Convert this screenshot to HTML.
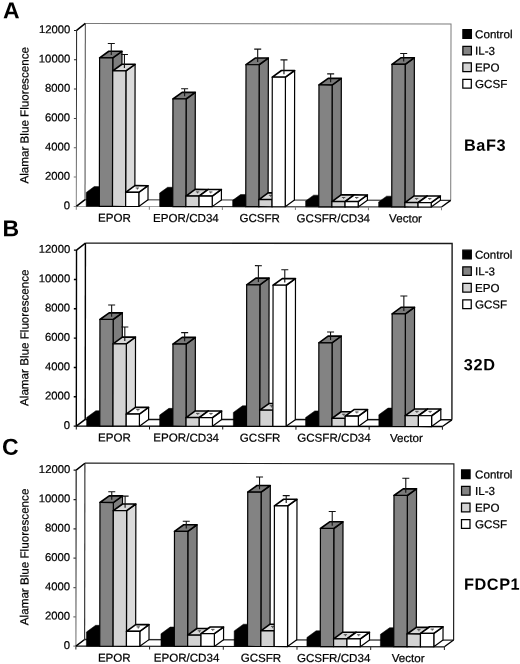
<!DOCTYPE html>
<html><head><meta charset="utf-8"><title>Figure</title>
<style>
html,body{margin:0;padding:0;background:#fff;}
body{width:520px;height:664px;overflow:hidden;}
svg{display:block;will-change:transform;opacity:0.999}
text{font-family:"Liberation Sans",Arial,Helvetica,sans-serif;fill:#000}
.t{font-size:11.3px;stroke:#000;stroke-width:0.22px}
.pl{font-size:23px;font-weight:bold}
.nm{font-size:16.3px;font-weight:bold;letter-spacing:0.6px}
</style></head><body>
<svg width="520" height="664" viewBox="0 0 520 664">
<rect width="520" height="664" fill="#fff"/>
<g transform="rotate(0.100 76.3 206.4)">
<path d="M85.00 23.40H450.70V199.70" fill="none" stroke="#7a7a7a" stroke-width="1.00"/>
<path d="M85.00 23.40V199.70" fill="none" stroke="#4a4a4a" stroke-width="1.00"/>
<path d="M85.00 199.70H450.70" fill="none" stroke="#333" stroke-width="1.10"/>
<path d="M441.50 206.40L450.70 199.70" fill="none" stroke="#000" stroke-width="1.3"/>
<path d="M76.30 206.40H160.00" stroke="#a0a0a0" stroke-width="1" fill="none"/>
<path d="M160.00 206.40H441.50" stroke="#111" stroke-width="1.00" fill="none"/>
<polygon points="86.20,206.40 86.20,192.39 94.16,186.59 108.55,186.59 108.55,199.70 99.35,206.40" fill="#000" stroke="#000" stroke-width="0.5" stroke-linejoin="round"/>
<polygon points="112.50,206.40 121.70,199.70 121.70,51.20 112.50,57.90" fill="#7e7e7e" stroke="#000" stroke-width="1.2" stroke-linejoin="round"/>
<polygon points="99.35,57.90 108.55,51.20 121.70,51.20 112.50,57.90" fill="#7a7a7a" stroke="#000" stroke-width="1.6" stroke-linejoin="round"/>
<polygon points="99.35,206.40 99.35,57.90 112.50,57.90 112.50,206.40" fill="#838383" stroke="#000" stroke-width="1.2" stroke-linejoin="round"/>
<path d="M111.02 55.05V43.40M107.52 43.40H114.52" stroke="#111" stroke-width="1.1" fill="none"/>
<polygon points="125.65,206.40 134.85,199.70 134.85,64.18 125.65,70.88" fill="#dbdbdb" stroke="#000" stroke-width="1.2" stroke-linejoin="round"/>
<polygon points="112.50,70.88 121.70,64.18 134.85,64.18 125.65,70.88" fill="#d8d8d8" stroke="#000" stroke-width="1.6" stroke-linejoin="round"/>
<polygon points="112.50,206.40 112.50,70.88 125.65,70.88 125.65,206.40" fill="#d3d3d3" stroke="#000" stroke-width="1.2" stroke-linejoin="round"/>
<path d="M124.17 68.03V54.48M120.67 54.48H127.67" stroke="#111" stroke-width="1.1" fill="none"/>
<polygon points="138.80,206.40 148.00,199.70 148.00,185.55 138.80,192.25" fill="#fff" stroke="#000" stroke-width="1.2" stroke-linejoin="round"/>
<polygon points="125.65,192.25 134.85,185.55 148.00,185.55 138.80,192.25" fill="#fff" stroke="#000" stroke-width="1.6" stroke-linejoin="round"/>
<polygon points="125.65,206.40 125.65,192.25 138.80,192.25 138.80,206.40" fill="#fff" stroke="#000" stroke-width="1.2" stroke-linejoin="round"/>
<path d="M137.32 189.50V187.87M135.62 187.87H139.02" stroke="#444" stroke-width="0.9" fill="none"/>
<polygon points="159.60,206.40 159.60,192.91 167.56,187.11 181.95,187.11 181.95,199.70 172.75,206.40" fill="#000" stroke="#000" stroke-width="0.5" stroke-linejoin="round"/>
<polygon points="185.90,206.40 195.10,199.70 195.10,92.12 185.90,98.82" fill="#7e7e7e" stroke="#000" stroke-width="1.2" stroke-linejoin="round"/>
<polygon points="172.75,98.82 181.95,92.12 195.10,92.12 185.90,98.82" fill="#7a7a7a" stroke="#000" stroke-width="1.6" stroke-linejoin="round"/>
<polygon points="172.75,206.40 172.75,98.82 185.90,98.82 185.90,206.40" fill="#838383" stroke="#000" stroke-width="1.2" stroke-linejoin="round"/>
<path d="M184.42 95.97V88.50M180.92 88.50H187.92" stroke="#111" stroke-width="1.1" fill="none"/>
<polygon points="199.05,206.40 208.25,199.70 208.25,189.21 199.05,195.91" fill="#dbdbdb" stroke="#000" stroke-width="1.2" stroke-linejoin="round"/>
<polygon points="185.90,195.91 195.10,189.21 208.25,189.21 199.05,195.91" fill="#d8d8d8" stroke="#000" stroke-width="1.6" stroke-linejoin="round"/>
<polygon points="185.90,206.40 185.90,195.91 199.05,195.91 199.05,206.40" fill="#d3d3d3" stroke="#000" stroke-width="1.2" stroke-linejoin="round"/>
<path d="M197.57 193.16V191.68M195.88 191.68H199.27" stroke="#444" stroke-width="0.9" fill="none"/>
<polygon points="212.20,206.40 221.40,199.70 221.40,189.21 212.20,195.91" fill="#fff" stroke="#000" stroke-width="1.2" stroke-linejoin="round"/>
<polygon points="199.05,195.91 208.25,189.21 221.40,189.21 212.20,195.91" fill="#fff" stroke="#000" stroke-width="1.6" stroke-linejoin="round"/>
<polygon points="199.05,206.40 199.05,195.91 212.20,195.91 212.20,206.40" fill="#fff" stroke="#000" stroke-width="1.2" stroke-linejoin="round"/>
<path d="M210.72 193.16V191.68M209.03 191.68H212.42" stroke="#444" stroke-width="0.9" fill="none"/>
<polygon points="232.60,206.40 232.60,200.09 240.56,194.29 254.95,194.29 254.95,199.70 245.75,206.40" fill="#000" stroke="#000" stroke-width="0.5" stroke-linejoin="round"/>
<polygon points="258.90,206.40 268.10,199.70 268.10,57.73 258.90,64.43" fill="#7e7e7e" stroke="#000" stroke-width="1.2" stroke-linejoin="round"/>
<polygon points="245.75,64.43 254.95,57.73 268.10,57.73 258.90,64.43" fill="#7a7a7a" stroke="#000" stroke-width="1.6" stroke-linejoin="round"/>
<polygon points="245.75,206.40 245.75,64.43 258.90,64.43 258.90,206.40" fill="#838383" stroke="#000" stroke-width="1.2" stroke-linejoin="round"/>
<path d="M257.43 61.58V48.83M253.93 48.83H260.93" stroke="#111" stroke-width="1.1" fill="none"/>
<polygon points="272.05,206.40 281.25,199.70 281.25,192.51 272.05,199.21" fill="#dbdbdb" stroke="#000" stroke-width="1.2" stroke-linejoin="round"/>
<polygon points="258.90,199.21 268.10,192.51 281.25,192.51 272.05,199.21" fill="#d8d8d8" stroke="#000" stroke-width="1.6" stroke-linejoin="round"/>
<polygon points="258.90,206.40 258.90,199.21 272.05,199.21 272.05,206.40" fill="#d3d3d3" stroke="#000" stroke-width="1.2" stroke-linejoin="round"/>
<path d="M270.57 196.46V194.98M268.88 194.98H272.27" stroke="#444" stroke-width="0.9" fill="none"/>
<polygon points="285.20,206.40 294.40,199.70 294.40,70.12 285.20,76.82" fill="#fff" stroke="#000" stroke-width="1.2" stroke-linejoin="round"/>
<polygon points="272.05,76.82 281.25,70.12 294.40,70.12 285.20,76.82" fill="#fff" stroke="#000" stroke-width="1.6" stroke-linejoin="round"/>
<polygon points="272.05,206.40 272.05,76.82 285.20,76.82 285.20,206.40" fill="#fff" stroke="#000" stroke-width="1.2" stroke-linejoin="round"/>
<path d="M283.73 73.97V59.54M280.23 59.54H287.23" stroke="#111" stroke-width="1.1" fill="none"/>
<polygon points="305.60,206.40 305.60,200.53 313.56,194.73 327.95,194.73 327.95,199.70 318.75,206.40" fill="#000" stroke="#000" stroke-width="0.5" stroke-linejoin="round"/>
<polygon points="331.90,206.40 341.10,199.70 341.10,77.89 331.90,84.59" fill="#7e7e7e" stroke="#000" stroke-width="1.2" stroke-linejoin="round"/>
<polygon points="318.75,84.59 327.95,77.89 341.10,77.89 331.90,84.59" fill="#7a7a7a" stroke="#000" stroke-width="1.6" stroke-linejoin="round"/>
<polygon points="318.75,206.40 318.75,84.59 331.90,84.59 331.90,206.40" fill="#838383" stroke="#000" stroke-width="1.2" stroke-linejoin="round"/>
<path d="M330.43 81.74V73.40M326.93 73.40H333.93" stroke="#111" stroke-width="1.1" fill="none"/>
<polygon points="345.05,206.40 354.25,199.70 354.25,194.42 345.05,201.12" fill="#dbdbdb" stroke="#000" stroke-width="1.2" stroke-linejoin="round"/>
<polygon points="331.90,201.12 341.10,194.42 354.25,194.42 345.05,201.12" fill="#d8d8d8" stroke="#000" stroke-width="1.6" stroke-linejoin="round"/>
<polygon points="331.90,206.40 331.90,201.12 345.05,201.12 345.05,206.40" fill="#d3d3d3" stroke="#000" stroke-width="1.2" stroke-linejoin="round"/>
<path d="M343.58 198.37V197.04M341.88 197.04H345.28" stroke="#444" stroke-width="0.9" fill="none"/>
<polygon points="358.20,206.40 367.40,199.70 367.40,194.42 358.20,201.12" fill="#fff" stroke="#000" stroke-width="1.2" stroke-linejoin="round"/>
<polygon points="345.05,201.12 354.25,194.42 367.40,194.42 358.20,201.12" fill="#fff" stroke="#000" stroke-width="1.6" stroke-linejoin="round"/>
<polygon points="345.05,206.40 345.05,201.12 358.20,201.12 358.20,206.40" fill="#fff" stroke="#000" stroke-width="1.2" stroke-linejoin="round"/>
<path d="M356.73 198.37V197.04M355.03 197.04H358.43" stroke="#444" stroke-width="0.9" fill="none"/>
<polygon points="378.60,206.40 378.60,201.41 386.56,195.61 400.95,195.61 400.95,199.70 391.75,206.40" fill="#000" stroke="#000" stroke-width="0.5" stroke-linejoin="round"/>
<polygon points="404.90,206.40 414.10,199.70 414.10,57.14 404.90,63.84" fill="#7e7e7e" stroke="#000" stroke-width="1.2" stroke-linejoin="round"/>
<polygon points="391.75,63.84 400.95,57.14 414.10,57.14 404.90,63.84" fill="#7a7a7a" stroke="#000" stroke-width="1.6" stroke-linejoin="round"/>
<polygon points="391.75,206.40 391.75,63.84 404.90,63.84 404.90,206.40" fill="#838383" stroke="#000" stroke-width="1.2" stroke-linejoin="round"/>
<path d="M403.43 60.99V52.86M399.93 52.86H406.93" stroke="#111" stroke-width="1.1" fill="none"/>
<polygon points="418.05,206.40 427.25,199.70 427.25,195.37 418.05,202.07" fill="#dbdbdb" stroke="#000" stroke-width="1.2" stroke-linejoin="round"/>
<polygon points="404.90,202.07 414.10,195.37 427.25,195.37 418.05,202.07" fill="#d8d8d8" stroke="#000" stroke-width="1.6" stroke-linejoin="round"/>
<polygon points="404.90,206.40 404.90,202.07 418.05,202.07 418.05,206.40" fill="#d3d3d3" stroke="#000" stroke-width="1.2" stroke-linejoin="round"/>
<path d="M416.58 199.32V197.99M414.88 197.99H418.28" stroke="#444" stroke-width="0.9" fill="none"/>
<polygon points="431.20,206.40 440.40,199.70 440.40,195.37 431.20,202.07" fill="#fff" stroke="#000" stroke-width="1.2" stroke-linejoin="round"/>
<polygon points="418.05,202.07 427.25,195.37 440.40,195.37 431.20,202.07" fill="#fff" stroke="#000" stroke-width="1.6" stroke-linejoin="round"/>
<polygon points="418.05,206.40 418.05,202.07 431.20,202.07 431.20,206.40" fill="#fff" stroke="#000" stroke-width="1.2" stroke-linejoin="round"/>
<path d="M429.73 199.32V197.99M428.03 197.99H431.43" stroke="#444" stroke-width="0.9" fill="none"/>
<linearGradient id="axA" gradientUnits="userSpaceOnUse" x1="0" y1="30.4" x2="0" y2="206.4"><stop offset="0" stop-color="#1a1a1a"/><stop offset="0.35" stop-color="#333"/><stop offset="1" stop-color="#8c8c8c"/></linearGradient>
<path d="M76.30 30.40V206.40M73.70 206.40H76.30M73.70 177.07H76.30M73.70 147.73H76.30M73.70 118.40H76.30M73.70 89.07H76.30M73.70 59.73H76.30M73.70 30.40H76.30" stroke="url(#axA)" stroke-width="1.00" fill="none"/>
<path d="M76.30 30.40L85.00 23.40M76.30 206.40L85.00 199.70" stroke="#000" stroke-width="1.5" fill="none"/>
<path d="M76.30 206.40V209.70M149.34 206.40V209.70M222.38 206.40V209.70M295.42 206.40V209.70M368.46 206.40V209.70M441.50 206.40V209.70" stroke="#808080" stroke-width="1" fill="none"/>
<text x="70.0" y="209.20" text-anchor="end" class="t">0</text>
<text x="70.0" y="179.87" text-anchor="end" class="t">2000</text>
<text x="70.0" y="150.53" text-anchor="end" class="t">4000</text>
<text x="70.0" y="121.20" text-anchor="end" class="t">6000</text>
<text x="70.0" y="91.87" text-anchor="end" class="t">8000</text>
<text x="70.0" y="62.53" text-anchor="end" class="t">10000</text>
<text x="70.0" y="33.20" text-anchor="end" class="t">12000</text>
<text x="114.42" y="221.80" text-anchor="middle" class="t" style="font-size:11.6px">EPOR</text>
<text x="185.96" y="221.80" text-anchor="middle" class="t" style="font-size:11.6px">EPOR/CD34</text>
<text x="259.70" y="221.80" text-anchor="middle" class="t" style="font-size:11.6px">GCSFR</text>
<text x="333.34" y="221.80" text-anchor="middle" class="t" style="font-size:11.6px">GCSFR/CD34</text>
<text x="405.58" y="221.80" text-anchor="middle" class="t" style="font-size:11.6px">Vector</text>
<text transform="translate(28.3,115.35) rotate(-90)" text-anchor="middle" class="t" style="font-size:11.65px">Alamar Blue Fluorescence</text>
<rect x="462.60" y="29.00" width="8.5" height="8.7" fill="#000" stroke="#000" stroke-width="1.25"/>
<text x="474.80" y="37.60" class="t" style="font-size:11.6px">Control</text>
<rect x="462.60" y="45.58" width="8.5" height="8.7" fill="#838383" stroke="#000" stroke-width="1.25"/>
<text x="474.80" y="54.18" class="t" style="font-size:11.6px">IL-3</text>
<rect x="462.60" y="62.16" width="8.5" height="8.7" fill="#d3d3d3" stroke="#000" stroke-width="1.25"/>
<text x="474.80" y="70.76" class="t" style="font-size:11.6px">EPO</text>
<rect x="462.60" y="78.74" width="8.5" height="8.7" fill="#fff" stroke="#000" stroke-width="1.25"/>
<text x="474.80" y="87.34" class="t" style="font-size:11.6px">GCSF</text>
<text x="2.60" y="18.40" class="pl">A</text>
<text x="463.8" y="150.10" class="nm">BaF3</text>
</g>
<g transform="rotate(0.070 76.3 426.1)">
<path d="M85.20 243.10H451.90V419.40" fill="none" stroke="#1a1a1a" stroke-width="1.40"/>
<path d="M85.20 243.10V419.40" fill="none" stroke="#000" stroke-width="1.40"/>
<path d="M85.20 419.40H451.90" fill="none" stroke="#111" stroke-width="1.50"/>
<path d="M442.40 426.10L451.90 419.40" fill="none" stroke="#000" stroke-width="1.3"/>
<path d="M76.30 426.10H442.40" stroke="#000" stroke-width="1.40" fill="none"/>
<polygon points="86.60,426.10 86.60,417.45 95.80,410.75 109.00,410.75 109.00,419.40 99.80,426.10" fill="#000" stroke="#000" stroke-width="0.5" stroke-linejoin="round"/>
<polygon points="113.00,426.10 122.20,419.40 122.20,312.77 113.00,319.47" fill="#7e7e7e" stroke="#000" stroke-width="1.2" stroke-linejoin="round"/>
<polygon points="99.80,319.47 109.00,312.77 122.20,312.77 113.00,319.47" fill="#7a7a7a" stroke="#000" stroke-width="1.6" stroke-linejoin="round"/>
<polygon points="99.80,426.10 99.80,319.47 113.00,319.47 113.00,426.10" fill="#838383" stroke="#000" stroke-width="1.2" stroke-linejoin="round"/>
<path d="M111.50 316.62V304.90M108.00 304.90H115.00" stroke="#111" stroke-width="1.1" fill="none"/>
<polygon points="126.20,426.10 135.40,419.40 135.40,337.05 126.20,343.75" fill="#dbdbdb" stroke="#000" stroke-width="1.2" stroke-linejoin="round"/>
<polygon points="113.00,343.75 122.20,337.05 135.40,337.05 126.20,343.75" fill="#d8d8d8" stroke="#000" stroke-width="1.6" stroke-linejoin="round"/>
<polygon points="113.00,426.10 113.00,343.75 126.20,343.75 126.20,426.10" fill="#d3d3d3" stroke="#000" stroke-width="1.2" stroke-linejoin="round"/>
<path d="M124.70 340.90V326.98M121.20 326.98H128.20" stroke="#111" stroke-width="1.1" fill="none"/>
<polygon points="139.40,426.10 148.60,419.40 148.60,407.30 139.40,414.00" fill="#fff" stroke="#000" stroke-width="1.2" stroke-linejoin="round"/>
<polygon points="126.20,414.00 135.40,407.30 148.60,407.30 139.40,414.00" fill="#fff" stroke="#000" stroke-width="1.6" stroke-linejoin="round"/>
<polygon points="126.20,426.10 126.20,414.00 139.40,414.00 139.40,426.10" fill="#fff" stroke="#000" stroke-width="1.2" stroke-linejoin="round"/>
<path d="M137.90 411.25V409.48M136.20 409.48H139.60" stroke="#444" stroke-width="0.9" fill="none"/>
<polygon points="159.65,426.10 159.65,414.95 168.85,408.25 182.05,408.25 182.05,419.40 172.85,426.10" fill="#000" stroke="#000" stroke-width="0.5" stroke-linejoin="round"/>
<polygon points="186.05,426.10 195.25,419.40 195.25,337.27 186.05,343.97" fill="#7e7e7e" stroke="#000" stroke-width="1.2" stroke-linejoin="round"/>
<polygon points="172.85,343.97 182.05,337.27 195.25,337.27 186.05,343.97" fill="#7a7a7a" stroke="#000" stroke-width="1.6" stroke-linejoin="round"/>
<polygon points="172.85,426.10 172.85,343.97 186.05,343.97 186.05,426.10" fill="#838383" stroke="#000" stroke-width="1.2" stroke-linejoin="round"/>
<path d="M184.55 341.12V332.48M181.05 332.48H188.05" stroke="#111" stroke-width="1.1" fill="none"/>
<polygon points="199.25,426.10 208.45,419.40 208.45,410.81 199.25,417.51" fill="#dbdbdb" stroke="#000" stroke-width="1.2" stroke-linejoin="round"/>
<polygon points="186.05,417.51 195.25,410.81 208.45,410.81 199.25,417.51" fill="#d8d8d8" stroke="#000" stroke-width="1.6" stroke-linejoin="round"/>
<polygon points="186.05,426.10 186.05,417.51 199.25,417.51 199.25,426.10" fill="#d3d3d3" stroke="#000" stroke-width="1.2" stroke-linejoin="round"/>
<path d="M197.75 414.76V413.28M196.05 413.28H199.45" stroke="#444" stroke-width="0.9" fill="none"/>
<polygon points="212.45,426.10 221.65,419.40 221.65,410.81 212.45,417.51" fill="#fff" stroke="#000" stroke-width="1.2" stroke-linejoin="round"/>
<polygon points="199.25,417.51 208.45,410.81 221.65,410.81 212.45,417.51" fill="#fff" stroke="#000" stroke-width="1.6" stroke-linejoin="round"/>
<polygon points="199.25,426.10 199.25,417.51 212.45,417.51 212.45,426.10" fill="#fff" stroke="#000" stroke-width="1.2" stroke-linejoin="round"/>
<path d="M210.95 414.76V413.28M209.25 413.28H212.65" stroke="#444" stroke-width="0.9" fill="none"/>
<polygon points="233.30,426.10 233.30,412.25 242.50,405.55 255.70,405.55 255.70,419.40 246.50,426.10" fill="#000" stroke="#000" stroke-width="0.5" stroke-linejoin="round"/>
<polygon points="259.70,426.10 268.90,419.40 268.90,277.87 259.70,284.57" fill="#7e7e7e" stroke="#000" stroke-width="1.2" stroke-linejoin="round"/>
<polygon points="246.50,284.57 255.70,277.87 268.90,277.87 259.70,284.57" fill="#7a7a7a" stroke="#000" stroke-width="1.6" stroke-linejoin="round"/>
<polygon points="246.50,426.10 246.50,284.57 259.70,284.57 259.70,426.10" fill="#838383" stroke="#000" stroke-width="1.2" stroke-linejoin="round"/>
<path d="M258.20 281.72V265.45M254.70 265.45H261.70" stroke="#111" stroke-width="1.1" fill="none"/>
<polygon points="272.90,426.10 282.10,419.40 282.10,403.30 272.90,410.00" fill="#dbdbdb" stroke="#000" stroke-width="1.2" stroke-linejoin="round"/>
<polygon points="259.70,410.00 268.90,403.30 282.10,403.30 272.90,410.00" fill="#d8d8d8" stroke="#000" stroke-width="1.6" stroke-linejoin="round"/>
<polygon points="259.70,426.10 259.70,410.00 272.90,410.00 272.90,426.10" fill="#d3d3d3" stroke="#000" stroke-width="1.2" stroke-linejoin="round"/>
<path d="M271.40 407.25V405.47M269.70 405.47H273.10" stroke="#444" stroke-width="0.9" fill="none"/>
<polygon points="286.10,426.10 295.30,419.40 295.30,278.31 286.10,285.01" fill="#fff" stroke="#000" stroke-width="1.2" stroke-linejoin="round"/>
<polygon points="272.90,285.01 282.10,278.31 295.30,278.31 286.10,285.01" fill="#fff" stroke="#000" stroke-width="1.6" stroke-linejoin="round"/>
<polygon points="272.90,426.10 272.90,285.01 286.10,285.01 286.10,426.10" fill="#fff" stroke="#000" stroke-width="1.2" stroke-linejoin="round"/>
<path d="M284.60 282.16V269.56M281.10 269.56H288.10" stroke="#111" stroke-width="1.1" fill="none"/>
<polygon points="305.55,426.10 305.55,417.30 314.75,410.60 327.95,410.60 327.95,419.40 318.75,426.10" fill="#000" stroke="#000" stroke-width="0.5" stroke-linejoin="round"/>
<polygon points="331.95,426.10 341.15,419.40 341.15,335.80 331.95,342.50" fill="#7e7e7e" stroke="#000" stroke-width="1.2" stroke-linejoin="round"/>
<polygon points="318.75,342.50 327.95,335.80 341.15,335.80 331.95,342.50" fill="#7a7a7a" stroke="#000" stroke-width="1.6" stroke-linejoin="round"/>
<polygon points="318.75,426.10 318.75,342.50 331.95,342.50 331.95,426.10" fill="#838383" stroke="#000" stroke-width="1.2" stroke-linejoin="round"/>
<path d="M330.45 339.65V331.74M326.95 331.74H333.95" stroke="#111" stroke-width="1.1" fill="none"/>
<polygon points="345.15,426.10 354.35,419.40 354.35,411.41 345.15,418.11" fill="#dbdbdb" stroke="#000" stroke-width="1.2" stroke-linejoin="round"/>
<polygon points="331.95,418.11 341.15,411.41 354.35,411.41 345.15,418.11" fill="#d8d8d8" stroke="#000" stroke-width="1.6" stroke-linejoin="round"/>
<polygon points="331.95,426.10 331.95,418.11 345.15,418.11 345.15,426.10" fill="#d3d3d3" stroke="#000" stroke-width="1.2" stroke-linejoin="round"/>
<path d="M343.65 415.36V413.88M341.95 413.88H345.35" stroke="#444" stroke-width="0.9" fill="none"/>
<polygon points="358.35,426.10 367.55,419.40 367.55,409.13 358.35,415.83" fill="#fff" stroke="#000" stroke-width="1.2" stroke-linejoin="round"/>
<polygon points="345.15,415.83 354.35,409.13 367.55,409.13 358.35,415.83" fill="#fff" stroke="#000" stroke-width="1.6" stroke-linejoin="round"/>
<polygon points="345.15,426.10 345.15,415.83 358.35,415.83 358.35,426.10" fill="#fff" stroke="#000" stroke-width="1.2" stroke-linejoin="round"/>
<path d="M356.85 413.08V411.60M355.15 411.60H358.55" stroke="#444" stroke-width="0.9" fill="none"/>
<polygon points="378.80,426.10 378.80,414.37 388.00,407.67 401.20,407.67 401.20,419.40 392.00,426.10" fill="#000" stroke="#000" stroke-width="0.5" stroke-linejoin="round"/>
<polygon points="405.20,426.10 414.40,419.40 414.40,306.83 405.20,313.53" fill="#7e7e7e" stroke="#000" stroke-width="1.2" stroke-linejoin="round"/>
<polygon points="392.00,313.53 401.20,306.83 414.40,306.83 405.20,313.53" fill="#7a7a7a" stroke="#000" stroke-width="1.6" stroke-linejoin="round"/>
<polygon points="392.00,426.10 392.00,313.53 405.20,313.53 405.20,426.10" fill="#838383" stroke="#000" stroke-width="1.2" stroke-linejoin="round"/>
<path d="M403.70 310.68V295.59M400.20 295.59H407.20" stroke="#111" stroke-width="1.1" fill="none"/>
<polygon points="418.40,426.10 427.60,419.40 427.60,408.61 418.40,415.31" fill="#dbdbdb" stroke="#000" stroke-width="1.2" stroke-linejoin="round"/>
<polygon points="405.20,415.31 414.40,408.61 427.60,408.61 418.40,415.31" fill="#d8d8d8" stroke="#000" stroke-width="1.6" stroke-linejoin="round"/>
<polygon points="405.20,426.10 405.20,415.31 418.40,415.31 418.40,426.10" fill="#d3d3d3" stroke="#000" stroke-width="1.2" stroke-linejoin="round"/>
<path d="M416.90 412.56V410.93M415.20 410.93H418.60" stroke="#444" stroke-width="0.9" fill="none"/>
<polygon points="431.60,426.10 440.80,419.40 440.80,408.61 431.60,415.31" fill="#fff" stroke="#000" stroke-width="1.2" stroke-linejoin="round"/>
<polygon points="418.40,415.31 427.60,408.61 440.80,408.61 431.60,415.31" fill="#fff" stroke="#000" stroke-width="1.6" stroke-linejoin="round"/>
<polygon points="418.40,426.10 418.40,415.31 431.60,415.31 431.60,426.10" fill="#fff" stroke="#000" stroke-width="1.2" stroke-linejoin="round"/>
<path d="M430.10 412.56V410.93M428.40 410.93H431.80" stroke="#444" stroke-width="0.9" fill="none"/>
<path d="M76.30 250.10V426.10M73.70 426.10H76.30M73.70 396.77H76.30M73.70 367.43H76.30M73.70 338.10H76.30M73.70 308.77H76.30M73.70 279.43H76.30M73.70 250.10H76.30" stroke="#000" stroke-width="1.40" fill="none"/>
<path d="M76.30 250.10L85.20 243.10M76.30 426.10L85.20 419.40" stroke="#000" stroke-width="1.5" fill="none"/>
<path d="M76.30 426.10V429.40M149.52 426.10V429.40M222.74 426.10V429.40M295.96 426.10V429.40M369.18 426.10V429.40M442.40 426.10V429.40" stroke="#111" stroke-width="1" fill="none"/>
<text x="70.0" y="428.90" text-anchor="end" class="t">0</text>
<text x="70.0" y="399.57" text-anchor="end" class="t">2000</text>
<text x="70.0" y="370.23" text-anchor="end" class="t">4000</text>
<text x="70.0" y="340.90" text-anchor="end" class="t">6000</text>
<text x="70.0" y="311.57" text-anchor="end" class="t">8000</text>
<text x="70.0" y="282.23" text-anchor="end" class="t">10000</text>
<text x="70.0" y="252.90" text-anchor="end" class="t">12000</text>
<text x="114.51" y="441.50" text-anchor="middle" class="t" style="font-size:11.6px">EPOR</text>
<text x="186.23" y="441.50" text-anchor="middle" class="t" style="font-size:11.6px">EPOR/CD34</text>
<text x="260.15" y="441.50" text-anchor="middle" class="t" style="font-size:11.6px">GCSFR</text>
<text x="333.97" y="441.50" text-anchor="middle" class="t" style="font-size:11.6px">GCSFR/CD34</text>
<text x="406.39" y="441.50" text-anchor="middle" class="t" style="font-size:11.6px">Vector</text>
<text transform="translate(28.3,337.75) rotate(-90)" text-anchor="middle" class="t" style="font-size:11.65px">Alamar Blue Fluorescence</text>
<rect x="462.60" y="249.70" width="8.5" height="8.7" fill="#000" stroke="#000" stroke-width="1.25"/>
<text x="474.80" y="258.30" class="t" style="font-size:11.6px">Control</text>
<rect x="462.60" y="266.28" width="8.5" height="8.7" fill="#838383" stroke="#000" stroke-width="1.25"/>
<text x="474.80" y="274.88" class="t" style="font-size:11.6px">IL-3</text>
<rect x="462.60" y="282.86" width="8.5" height="8.7" fill="#d3d3d3" stroke="#000" stroke-width="1.25"/>
<text x="474.80" y="291.46" class="t" style="font-size:11.6px">EPO</text>
<rect x="462.60" y="299.44" width="8.5" height="8.7" fill="#fff" stroke="#000" stroke-width="1.25"/>
<text x="474.80" y="308.04" class="t" style="font-size:11.6px">GCSF</text>
<text x="2.20" y="236.40" class="pl">B</text>
<text x="463.8" y="369.80" class="nm">32D</text>
</g>
<g transform="rotate(0.090 75.9 646.2)">
<path d="M84.60 463.20H453.60V639.50" fill="none" stroke="#222" stroke-width="1.20"/>
<path d="M84.60 463.20V639.50" fill="none" stroke="#3a3a3a" stroke-width="1.20"/>
<path d="M84.60 639.50H453.60" fill="none" stroke="#2a2a2a" stroke-width="1.30"/>
<path d="M444.40 646.20L453.60 639.50" fill="none" stroke="#000" stroke-width="1.3"/>
<path d="M75.90 646.20H444.40" stroke="#111" stroke-width="1.20" fill="none"/>
<polygon points="86.40,646.20 86.40,631.97 95.60,625.27 108.95,625.27 108.95,639.50 99.75,646.20" fill="#000" stroke="#000" stroke-width="0.5" stroke-linejoin="round"/>
<polygon points="113.10,646.20 122.30,639.50 122.30,495.77 113.10,502.47" fill="#7e7e7e" stroke="#000" stroke-width="1.2" stroke-linejoin="round"/>
<polygon points="99.75,502.47 108.95,495.77 122.30,495.77 113.10,502.47" fill="#7a7a7a" stroke="#000" stroke-width="1.6" stroke-linejoin="round"/>
<polygon points="99.75,646.20 99.75,502.47 113.10,502.47 113.10,646.20" fill="#838383" stroke="#000" stroke-width="1.2" stroke-linejoin="round"/>
<path d="M111.52 499.62V491.64M108.02 491.64H115.02" stroke="#111" stroke-width="1.1" fill="none"/>
<polygon points="126.45,646.20 135.65,639.50 135.65,503.91 126.45,510.61" fill="#dbdbdb" stroke="#000" stroke-width="1.2" stroke-linejoin="round"/>
<polygon points="113.10,510.61 122.30,503.91 135.65,503.91 126.45,510.61" fill="#d8d8d8" stroke="#000" stroke-width="1.6" stroke-linejoin="round"/>
<polygon points="113.10,646.20 113.10,510.61 126.45,510.61 126.45,646.20" fill="#d3d3d3" stroke="#000" stroke-width="1.2" stroke-linejoin="round"/>
<path d="M124.88 507.76V496.01M121.38 496.01H128.38" stroke="#111" stroke-width="1.1" fill="none"/>
<polygon points="139.80,646.20 149.00,639.50 149.00,624.55 139.80,631.25" fill="#fff" stroke="#000" stroke-width="1.2" stroke-linejoin="round"/>
<polygon points="126.45,631.25 135.65,624.55 149.00,624.55 139.80,631.25" fill="#fff" stroke="#000" stroke-width="1.6" stroke-linejoin="round"/>
<polygon points="126.45,646.20 126.45,631.25 139.80,631.25 139.80,646.20" fill="#fff" stroke="#000" stroke-width="1.2" stroke-linejoin="round"/>
<path d="M138.22 628.50V626.73M136.53 626.73H139.92" stroke="#444" stroke-width="0.9" fill="none"/>
<polygon points="160.95,646.20 160.95,633.59 170.15,626.89 183.50,626.89 183.50,639.50 174.30,646.20" fill="#000" stroke="#000" stroke-width="0.5" stroke-linejoin="round"/>
<polygon points="187.65,646.20 196.85,639.50 196.85,524.56 187.65,531.26" fill="#7e7e7e" stroke="#000" stroke-width="1.2" stroke-linejoin="round"/>
<polygon points="174.30,531.26 183.50,524.56 196.85,524.56 187.65,531.26" fill="#7a7a7a" stroke="#000" stroke-width="1.6" stroke-linejoin="round"/>
<polygon points="174.30,646.20 174.30,531.26 187.65,531.26 187.65,646.20" fill="#838383" stroke="#000" stroke-width="1.2" stroke-linejoin="round"/>
<path d="M186.07 528.41V521.09M182.57 521.09H189.57" stroke="#111" stroke-width="1.1" fill="none"/>
<polygon points="201.00,646.20 210.20,639.50 210.20,628.29 201.00,634.99" fill="#dbdbdb" stroke="#000" stroke-width="1.2" stroke-linejoin="round"/>
<polygon points="187.65,634.99 196.85,628.29 210.20,628.29 201.00,634.99" fill="#d8d8d8" stroke="#000" stroke-width="1.6" stroke-linejoin="round"/>
<polygon points="187.65,646.20 187.65,634.99 201.00,634.99 201.00,646.20" fill="#d3d3d3" stroke="#000" stroke-width="1.2" stroke-linejoin="round"/>
<path d="M199.42 632.24V630.62M197.72 630.62H201.12" stroke="#444" stroke-width="0.9" fill="none"/>
<polygon points="214.35,646.20 223.55,639.50 223.55,626.80 214.35,633.50" fill="#fff" stroke="#000" stroke-width="1.2" stroke-linejoin="round"/>
<polygon points="201.00,633.50 210.20,626.80 223.55,626.80 214.35,633.50" fill="#fff" stroke="#000" stroke-width="1.6" stroke-linejoin="round"/>
<polygon points="201.00,646.20 201.00,633.50 214.35,633.50 214.35,646.20" fill="#fff" stroke="#000" stroke-width="1.2" stroke-linejoin="round"/>
<path d="M212.78 630.75V629.12M211.08 629.12H214.47" stroke="#444" stroke-width="0.9" fill="none"/>
<polygon points="234.15,646.20 234.15,630.65 243.35,623.95 256.70,623.95 256.70,639.50 247.50,646.20" fill="#000" stroke="#000" stroke-width="0.5" stroke-linejoin="round"/>
<polygon points="260.85,646.20 270.05,639.50 270.05,485.21 260.85,491.91" fill="#7e7e7e" stroke="#000" stroke-width="1.2" stroke-linejoin="round"/>
<polygon points="247.50,491.91 256.70,485.21 270.05,485.21 260.85,491.91" fill="#7a7a7a" stroke="#000" stroke-width="1.6" stroke-linejoin="round"/>
<polygon points="247.50,646.20 247.50,491.91 260.85,491.91 260.85,646.20" fill="#838383" stroke="#000" stroke-width="1.2" stroke-linejoin="round"/>
<path d="M259.28 489.06V476.75M255.78 476.75H262.78" stroke="#111" stroke-width="1.1" fill="none"/>
<polygon points="274.20,646.20 283.40,639.50 283.40,623.91 274.20,630.61" fill="#dbdbdb" stroke="#000" stroke-width="1.2" stroke-linejoin="round"/>
<polygon points="260.85,630.61 270.05,623.91 283.40,623.91 274.20,630.61" fill="#d8d8d8" stroke="#000" stroke-width="1.6" stroke-linejoin="round"/>
<polygon points="260.85,646.20 260.85,630.61 274.20,630.61 274.20,646.20" fill="#d3d3d3" stroke="#000" stroke-width="1.2" stroke-linejoin="round"/>
<path d="M272.62 627.86V626.09M270.93 626.09H274.32" stroke="#444" stroke-width="0.9" fill="none"/>
<polygon points="287.55,646.20 296.75,639.50 296.75,498.91 287.55,505.61" fill="#fff" stroke="#000" stroke-width="1.2" stroke-linejoin="round"/>
<polygon points="274.20,505.61 283.40,498.91 296.75,498.91 287.55,505.61" fill="#fff" stroke="#000" stroke-width="1.6" stroke-linejoin="round"/>
<polygon points="274.20,646.20 274.20,505.61 287.55,505.61 287.55,646.20" fill="#fff" stroke="#000" stroke-width="1.2" stroke-linejoin="round"/>
<path d="M285.98 502.76V495.29M282.48 495.29H289.48" stroke="#111" stroke-width="1.1" fill="none"/>
<polygon points="306.90,646.20 306.90,637.11 316.10,630.41 329.45,630.41 329.45,639.50 320.25,646.20" fill="#000" stroke="#000" stroke-width="0.5" stroke-linejoin="round"/>
<polygon points="333.60,646.20 342.80,639.50 342.80,521.40 333.60,528.10" fill="#7e7e7e" stroke="#000" stroke-width="1.2" stroke-linejoin="round"/>
<polygon points="320.25,528.10 329.45,521.40 342.80,521.40 333.60,528.10" fill="#7a7a7a" stroke="#000" stroke-width="1.6" stroke-linejoin="round"/>
<polygon points="320.25,646.20 320.25,528.10 333.60,528.10 333.60,646.20" fill="#838383" stroke="#000" stroke-width="1.2" stroke-linejoin="round"/>
<path d="M332.03 525.25V511.04M328.53 511.04H335.53" stroke="#111" stroke-width="1.1" fill="none"/>
<polygon points="346.95,646.20 356.15,639.50 356.15,631.80 346.95,638.50" fill="#dbdbdb" stroke="#000" stroke-width="1.2" stroke-linejoin="round"/>
<polygon points="333.60,638.50 342.80,631.80 356.15,631.80 346.95,638.50" fill="#d8d8d8" stroke="#000" stroke-width="1.6" stroke-linejoin="round"/>
<polygon points="333.60,646.20 333.60,638.50 346.95,638.50 346.95,646.20" fill="#d3d3d3" stroke="#000" stroke-width="1.2" stroke-linejoin="round"/>
<path d="M345.38 635.75V634.27M343.68 634.27H347.07" stroke="#444" stroke-width="0.9" fill="none"/>
<polygon points="360.30,646.20 369.50,639.50 369.50,631.80 360.30,638.50" fill="#fff" stroke="#000" stroke-width="1.2" stroke-linejoin="round"/>
<polygon points="346.95,638.50 356.15,631.80 369.50,631.80 360.30,638.50" fill="#fff" stroke="#000" stroke-width="1.6" stroke-linejoin="round"/>
<polygon points="346.95,646.20 346.95,638.50 360.30,638.50 360.30,646.20" fill="#fff" stroke="#000" stroke-width="1.2" stroke-linejoin="round"/>
<path d="M358.73 635.75V634.27M357.03 634.27H360.43" stroke="#444" stroke-width="0.9" fill="none"/>
<polygon points="380.40,646.20 380.40,633.88 389.60,627.18 402.95,627.18 402.95,639.50 393.75,646.20" fill="#000" stroke="#000" stroke-width="0.5" stroke-linejoin="round"/>
<polygon points="407.10,646.20 416.30,639.50 416.30,488.30 407.10,495.00" fill="#7e7e7e" stroke="#000" stroke-width="1.2" stroke-linejoin="round"/>
<polygon points="393.75,495.00 402.95,488.30 416.30,488.30 407.10,495.00" fill="#7a7a7a" stroke="#000" stroke-width="1.6" stroke-linejoin="round"/>
<polygon points="393.75,646.20 393.75,495.00 407.10,495.00 407.10,646.20" fill="#838383" stroke="#000" stroke-width="1.2" stroke-linejoin="round"/>
<path d="M405.53 492.15V477.79M402.03 477.79H409.03" stroke="#111" stroke-width="1.1" fill="none"/>
<polygon points="420.45,646.20 429.65,639.50 429.65,626.80 420.45,633.50" fill="#dbdbdb" stroke="#000" stroke-width="1.2" stroke-linejoin="round"/>
<polygon points="407.10,633.50 416.30,626.80 429.65,626.80 420.45,633.50" fill="#d8d8d8" stroke="#000" stroke-width="1.6" stroke-linejoin="round"/>
<polygon points="407.10,646.20 407.10,633.50 420.45,633.50 420.45,646.20" fill="#d3d3d3" stroke="#000" stroke-width="1.2" stroke-linejoin="round"/>
<path d="M418.88 630.75V629.12M417.18 629.12H420.58" stroke="#444" stroke-width="0.9" fill="none"/>
<polygon points="433.80,646.20 443.00,639.50 443.00,626.20 433.80,632.90" fill="#fff" stroke="#000" stroke-width="1.2" stroke-linejoin="round"/>
<polygon points="420.45,632.90 429.65,626.20 443.00,626.20 433.80,632.90" fill="#fff" stroke="#000" stroke-width="1.6" stroke-linejoin="round"/>
<polygon points="420.45,646.20 420.45,632.90 433.80,632.90 433.80,646.20" fill="#fff" stroke="#000" stroke-width="1.2" stroke-linejoin="round"/>
<path d="M432.23 630.15V628.52M430.53 628.52H433.93" stroke="#444" stroke-width="0.9" fill="none"/>
<linearGradient id="axC" gradientUnits="userSpaceOnUse" x1="0" y1="470.2" x2="0" y2="646.2"><stop offset="0" stop-color="#1a1a1a"/><stop offset="0.35" stop-color="#333"/><stop offset="1" stop-color="#8c8c8c"/></linearGradient>
<path d="M75.90 470.20V646.20M73.30 646.20H75.90M73.30 616.87H75.90M73.30 587.53H75.90M73.30 558.20H75.90M73.30 528.87H75.90M73.30 499.53H75.90M73.30 470.20H75.90" stroke="url(#axC)" stroke-width="1.20" fill="none"/>
<path d="M75.90 470.20L84.60 463.20M75.90 646.20L84.60 639.50" stroke="#000" stroke-width="1.5" fill="none"/>
<path d="M75.90 646.20V649.50M149.60 646.20V649.50M223.30 646.20V649.50M297.00 646.20V649.50M370.70 646.20V649.50M444.40 646.20V649.50" stroke="#222" stroke-width="1" fill="none"/>
<text x="70.0" y="649.00" text-anchor="end" class="t">0</text>
<text x="70.0" y="619.67" text-anchor="end" class="t">2000</text>
<text x="70.0" y="590.33" text-anchor="end" class="t">4000</text>
<text x="70.0" y="561.00" text-anchor="end" class="t">6000</text>
<text x="70.0" y="531.67" text-anchor="end" class="t">8000</text>
<text x="70.0" y="502.33" text-anchor="end" class="t">10000</text>
<text x="70.0" y="473.00" text-anchor="end" class="t">12000</text>
<text x="114.35" y="661.60" text-anchor="middle" class="t" style="font-size:11.6px">EPOR</text>
<text x="186.55" y="661.60" text-anchor="middle" class="t" style="font-size:11.6px">EPOR/CD34</text>
<text x="260.95" y="661.60" text-anchor="middle" class="t" style="font-size:11.6px">GCSFR</text>
<text x="333.65" y="661.60" text-anchor="middle" class="t" style="font-size:11.6px">GCSFR/CD34</text>
<text x="408.15" y="661.60" text-anchor="middle" class="t" style="font-size:11.6px">Vector</text>
<text transform="translate(28.3,556.95) rotate(-90)" text-anchor="middle" class="t" style="font-size:11.65px">Alamar Blue Fluorescence</text>
<rect x="461.30" y="469.30" width="8.5" height="8.7" fill="#000" stroke="#000" stroke-width="1.25"/>
<text x="474.80" y="477.90" class="t" style="font-size:11.6px">Control</text>
<rect x="461.30" y="485.88" width="8.5" height="8.7" fill="#838383" stroke="#000" stroke-width="1.25"/>
<text x="474.80" y="494.48" class="t" style="font-size:11.6px">IL-3</text>
<rect x="461.30" y="502.46" width="8.5" height="8.7" fill="#d3d3d3" stroke="#000" stroke-width="1.25"/>
<text x="474.80" y="511.06" class="t" style="font-size:11.6px">EPO</text>
<rect x="461.30" y="519.04" width="8.5" height="8.7" fill="#fff" stroke="#000" stroke-width="1.25"/>
<text x="474.80" y="527.64" class="t" style="font-size:11.6px">GCSF</text>
<text x="1.80" y="454.80" class="pl">C</text>
<text x="463.8" y="589.20" class="nm">FDCP1</text>
</g>
</svg>
</body></html>
